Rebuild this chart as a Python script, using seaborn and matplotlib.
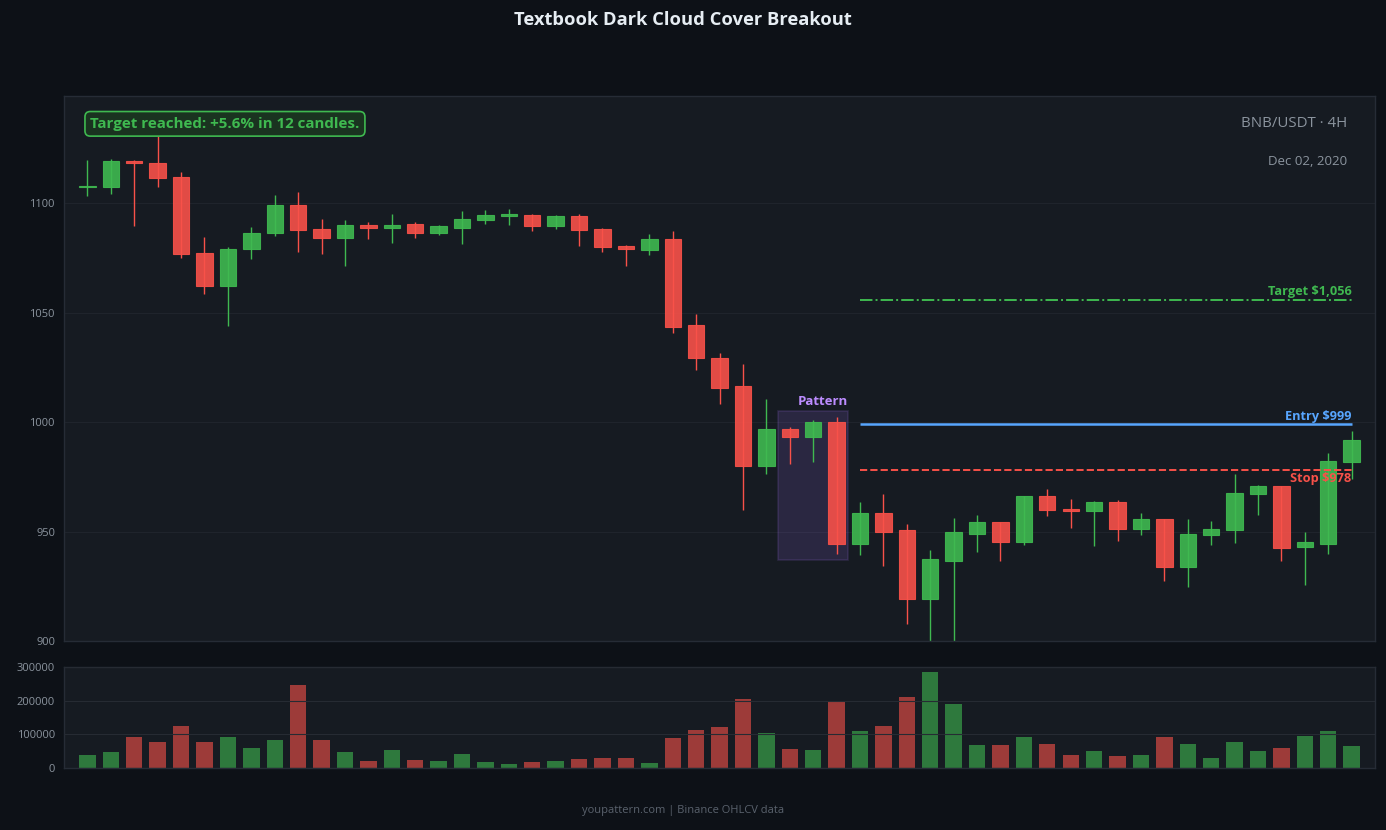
import numpy as np
import pandas as pd
import matplotlib
matplotlib.use('Agg')
import matplotlib.pyplot as plt
import seaborn as sns

# OHLCV (BNB/USDT 4H)
opens = [1107.4, 1107.6, 1119.5, 1118.6, 1112.2, 1077.5, 1062.0, 1078.9, 1086.2, 1099.4,
         1088.4, 1084.3, 1090.3, 1088.9, 1090.4, 1086.4, 1088.7, 1092.4, 1094.3, 1094.8,
         1089.6, 1094.4, 1088.4, 1080.7, 1078.7, 1083.9, 1044.2, 1029.5, 1016.3, 980.0,
         996.7, 993.3, 999.9, 944.4, 958.3, 950.5, 919.3, 936.7, 949.0, 954.2,
         945.3, 966.1, 960.1, 959.2, 963.3, 951.4, 955.6, 933.7, 948.3, 950.5,
         967.0, 970.6, 942.8, 944.4, 981.6]
closes = [1107.8, 1119.5, 1118.3, 1111.7, 1077.0, 1062.0, 1079.3, 1086.6, 1099.4, 1088.0,
          1084.3, 1090.3, 1088.9, 1090.3, 1086.4, 1089.4, 1093.0, 1094.8, 1094.7, 1089.6,
          1094.4, 1087.9, 1080.1, 1078.9, 1083.9, 1043.5, 1029.1, 1015.8, 980.0, 996.7,
          993.3, 999.9, 944.4, 958.3, 950.0, 919.3, 937.3, 949.6, 954.2, 945.3,
          966.1, 959.7, 959.2, 963.3, 951.4, 955.6, 933.7, 948.7, 951.0, 967.5,
          970.6, 942.7, 945.1, 982.1, 991.7]
highs = [1119.6, 1120.1, 1119.7, 1131.0, 1114.2, 1084.5, 1080.0, 1089.0, 1103.7, 1105.0,
         1092.7, 1092.2, 1091.3, 1095.0, 1091.5, 1089.9, 1096.3, 1096.8, 1097.3, 1094.9,
         1094.8, 1094.9, 1088.6, 1080.9, 1085.8, 1087.2, 1049.6, 1031.4, 1026.5, 1010.5,
         997.7, 1000.9, 1002.3, 963.5, 967.1, 953.4, 941.6, 956.2, 957.5, 954.4,
         966.3, 969.4, 964.8, 963.9, 964.3, 958.4, 955.8, 955.7, 954.8, 976.3,
         971.5, 970.8, 949.6, 985.8, 995.8]
lows = [1103.2, 1104.3, 1089.6, 1107.4, 1075.0, 1058.6, 1043.8, 1074.6, 1085.1, 1077.6,
        1076.7, 1071.4, 1083.7, 1081.9, 1084.0, 1085.4, 1081.3, 1090.4, 1090.0, 1087.2,
        1088.1, 1080.4, 1077.6, 1071.2, 1076.3, 1040.6, 1023.7, 1008.4, 960.0, 976.3,
        980.8, 981.7, 939.9, 939.4, 934.4, 907.9, 899.5, 899.8, 940.6, 936.5,
        943.8, 957.2, 951.8, 943.6, 945.8, 948.4, 927.5, 924.8, 944.0, 944.9,
        957.5, 936.7, 925.7, 939.9, 974.0]
volumes = [38600, 47500, 92000, 77000, 125000, 77000, 92000, 59000, 83000, 247000,
           83000, 47500, 21000, 53000, 24000, 21000, 42000, 18000, 12000, 18000,
           21000, 27000, 30000, 30000, 15000, 89000, 113000, 122000, 205000, 104000,
           56000, 53000, 196000, 110000, 125000, 211000, 285000, 190000, 68000, 68000,
           92000, 71000, 39000, 50000, 36000, 39000, 92000, 71000, 30000, 77000,
           50000, 59000, 95000, 110000, 65000]

entry_price = 999
stop_price = 978
target_price = 1056
pattern_start, pattern_end = 30, 32
trade_start, trade_end = 33, 54

GREEN = '#3fb950'
RED = '#f85149'
BLUE = '#58a6ff'
PURPLE = '#a371f7'
PURPLE_TXT = '#bc8cff'
FIG_BG = '#0d1117'
AX_BG = '#161b22'
TXT = '#8b949e'

df = pd.DataFrame({'open': opens, 'high': highs, 'low': lows,
                   'close': closes, 'volume': volumes})
df['idx'] = np.arange(len(df))
df['dir'] = np.where(df['close'] >= df['open'], 'up', 'down')

sns.set_theme(style='dark', rc={
    'figure.facecolor': FIG_BG,
    'axes.facecolor': AX_BG,
    'axes.edgecolor': '#262c36',
    'grid.color': '#1f242c',
    'xtick.color': TXT,
    'ytick.color': TXT,
    'text.color': TXT,
})
plt.rcParams['font.family'] = ['Open Sans', 'DejaVu Sans']

fig = plt.figure(figsize=(13.86, 8.3), dpi=100)
ax = fig.add_axes([0.0462, 0.2277, 0.9459, 0.6566])
axv = fig.add_axes([0.0462, 0.0747, 0.9459, 0.1217])

# candles
colors = np.where(df['dir'] == 'up', GREEN, RED)
ax.vlines(df['idx'], df['low'], df['high'], colors=colors, linewidth=1.0, zorder=2)
body_lo = np.minimum(df['open'], df['close'])
body_h = np.maximum((df['close'] - df['open']).abs(), 0.6)
ax.bar(df['idx'], body_h, bottom=body_lo, width=0.7, color=colors, alpha=0.9,
       edgecolor=colors, linewidth=0.8, zorder=3)

# pattern highlight
p = df.iloc[pattern_start:pattern_end + 1]
p_lo = p['low'].min() * 0.997
p_hi = p['high'].max() * 1.003
ax.add_patch(plt.Rectangle((pattern_start - 0.5, p_lo), pattern_end - pattern_start + 1,
                           p_hi - p_lo, facecolor=PURPLE, alpha=0.15,
                           edgecolor=PURPLE, linewidth=1.2, zorder=1))
ax.text(pattern_end + 0.5, p_hi + 1.0, 'Pattern', color=PURPLE_TXT, ha='right', va='bottom',
        fontsize=9.5, fontweight='bold')

# trade levels
ax.hlines(target_price, trade_start, trade_end, colors=GREEN, linestyles='-.', linewidth=1.4, zorder=4)
ax.hlines(entry_price, trade_start, trade_end, colors=BLUE, linestyles='-', linewidth=1.8, zorder=4)
ax.hlines(stop_price, trade_start, trade_end, colors=RED, linestyles='--', linewidth=1.4, zorder=4)
ax.text(trade_end, target_price + 0.8, f'Target ${target_price:,}', color=GREEN, ha='right',
        va='bottom', fontsize=9.2, fontweight='bold', zorder=5)
ax.text(trade_end, entry_price + 0.8, f'Entry ${entry_price:,}', color=BLUE, ha='right',
        va='bottom', fontsize=9.2, fontweight='bold', zorder=5)
ax.text(trade_end, stop_price - 0.8, f'Stop ${stop_price:,}', color=RED, ha='right',
        va='top', fontsize=9.2, fontweight='bold', zorder=5)

ax.set_xlim(-1, 55)
ax.set_ylim(900, 1149)
ax.set_yticks([900, 950, 1000, 1050, 1100])
ax.set_xticks([])
ax.grid(True, axis='y', linewidth=0.8)
ax.tick_params(axis='y', labelsize=8, length=3, color=TXT)

ax.text(0.02, 0.949, 'Target reached: +5.6% in 12 candles.', transform=ax.transAxes,
        color=GREEN, fontsize=10.9, fontweight='bold', va='center', ha='left', zorder=6,
        bbox=dict(boxstyle='round,pad=0.35', facecolor='#1a3320', edgecolor=GREEN, linewidth=1.2))
ax.text(0.979, 0.949, 'BNB/USDT · 4H', transform=ax.transAxes, color=TXT,
        fontsize=10.8, ha='right', va='center')
ax.text(0.979, 0.879, 'Dec 02, 2020', transform=ax.transAxes, color=TXT,
        fontsize=9.5, ha='right', va='center')

# volume
sns.barplot(data=df, x='idx', y='volume', hue='dir', palette={'up': GREEN, 'down': RED},
            native_scale=True, dodge=False, width=0.7, alpha=0.6, saturation=1,
            legend=False, errorbar=None, linewidth=0, edgecolor='none', ax=axv, zorder=2)
axv.set_xlim(-1, 55)
axv.set_ylim(0, 300000)
axv.set_yticks([0, 100000, 200000, 300000])
axv.set_xticks([])
axv.set_xlabel('')
axv.set_ylabel('')
axv.grid(True, axis='y', color='#262b33', linewidth=0.8)
axv.set_axisbelow(False)
axv.tick_params(axis='y', labelsize=8, length=3, color=TXT)

for a in (ax, axv):
    for s in a.spines.values():
        s.set_color('#262c36')
        s.set_linewidth(1.0)

fig.suptitle('Textbook Dark Cloud Cover Breakout', color='#e6edf3', fontsize=13.2,
             fontweight='bold', x=0.493, y=0.987)
fig.text(0.493, 0.024, 'youpattern.com | Binance OHLCV data', color='#5a626d',
         fontsize=8, ha='center', va='center')

fig.savefig('out.png', dpi=100, facecolor=FIG_BG)
